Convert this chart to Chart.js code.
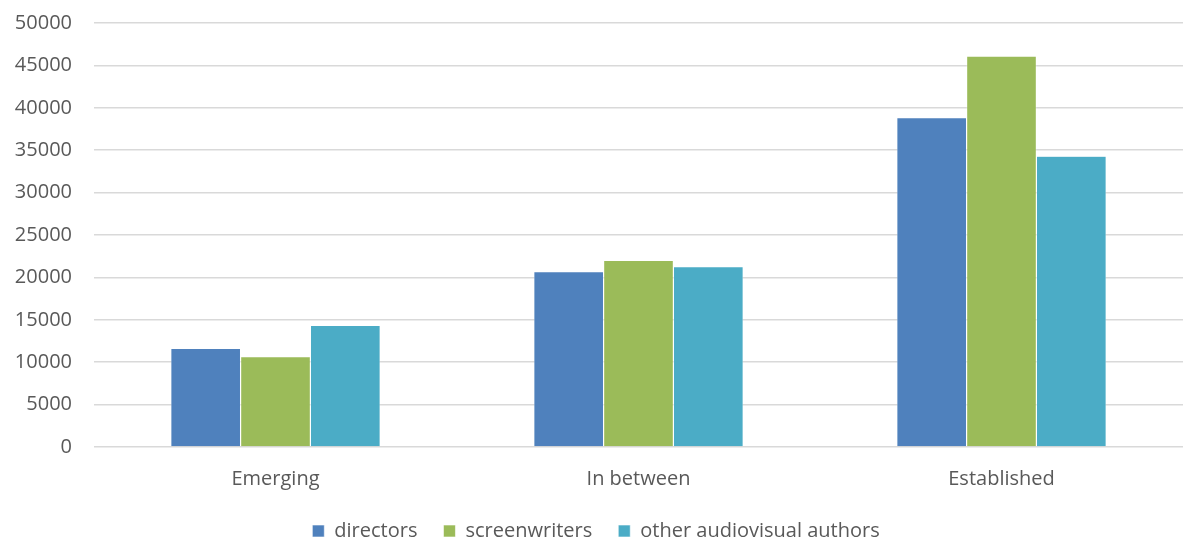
<!DOCTYPE html>
<html>
<head>
<meta charset="utf-8">
<script src="https://cdn.jsdelivr.net/npm/chart.js@4"></script>
<style>
  html, body { margin: 0; padding: 0; background: #fff; }
  #wrap { width: 1183px; height: 540px; position: relative; }
</style>
</head>
<body>
<div id="wrap"><canvas id="chart"></canvas></div>
<script>
// Categories and series values
const categories = ['Emerging', 'In between', 'Established'];
const directors = [11640, 20690, 38830];
const screenwriters = [10660, 21990, 46100];
const otherAuthors = [14350, 21280, 34300];
const seriesLabels = ['directors', 'screenwriters', 'other audiovisual authors'];
const seriesColors = ['#4F81BD', '#9BBB59', '#4BACC6'];

const textColor = '#595959';
const gridColor = '#d9d9d9';
const fontFamily = 'Open Sans';

// Shrink the legend box so it sits closer to the bottom edge
// while keeping wide horizontal spacing between items
const legendShrink = {
    id: 'legendShrink',
    afterInit(chart) {
        const legend = chart.legend;
        if (!legend) return;
        const origFit = legend.fit;
        legend.fit = function() {
            origFit.call(this);
            this.height = Math.max(0, this.height - 11);
        };
    }
};

const ctx = document.getElementById('chart');
new Chart(ctx, {
    type: 'bar',
    data: {
        labels: categories,
        datasets: [directors, screenwriters, otherAuthors].map((values, i) => ({
            label: seriesLabels[i],
            data: values,
            backgroundColor: seriesColors[i],
            borderColor: '#ffffff',
            borderWidth: 0.6,
            categoryPercentage: 0.577,
            barPercentage: 1.0
        }))
    },
    plugins: [legendShrink],
    options: {
        responsive: true,
        maintainAspectRatio: false,
        animation: false,
        layout: {
            // the plot area runs slightly past the right edge, as in the original
            padding: { top: 23, right: -9, left: 0, bottom: 0 }
        },
        plugins: {
            legend: {
                display: true,
                position: 'bottom',
                labels: {
                    color: textColor,
                    font: { family: fontFamily, size: 20 },
                    boxWidth: 12,
                    boxHeight: 12,
                    padding: 26
                }
            },
            tooltip: { enabled: false }
        },
        scales: {
            x: {
                grid: { display: false, drawTicks: false },
                border: { display: false },
                ticks: {
                    color: textColor,
                    font: { family: fontFamily, size: 20 },
                    padding: 20
                },
                afterFit: function(scale) {
                    scale.height = scale.height - 16;
                }
            },
            y: {
                min: 0,
                max: 50000,
                grid: { color: gridColor, lineWidth: 1.5, drawTicks: false },
                border: { display: false },
                ticks: {
                    stepSize: 5000,
                    color: textColor,
                    font: { family: fontFamily, size: 20 },
                    padding: 22,
                    callback: function(value) {
                        return String(value);
                    }
                },
                afterFit: function(scale) {
                    scale.width = 94;
                    scale.paddingTop = 0;
                    scale.paddingBottom = 0;
                }
            }
        }
    }
});
</script>
</body>
</html>
